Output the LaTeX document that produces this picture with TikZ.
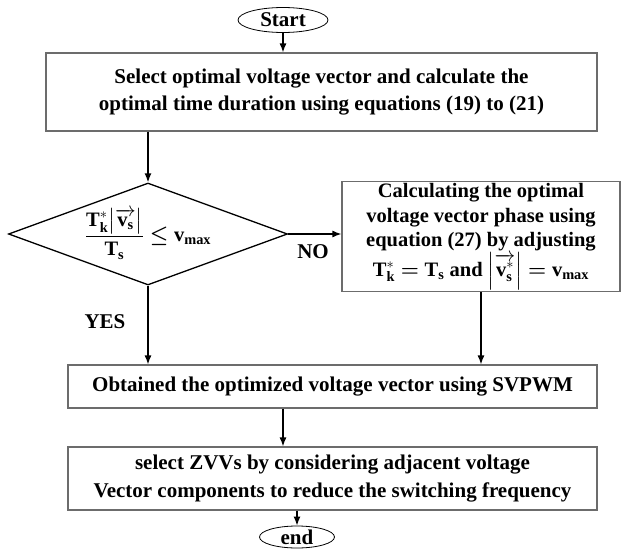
\documentclass[tikz,border=0pt]{standalone}
\usepackage{amsmath}
\usepackage{fontspec}
\setmainfont{Liberation Serif}
\usetikzlibrary{shapes.geometric,arrows.meta}

\begin{document}
\begin{tikzpicture}[x=1pt,y=-1pt,
    every node/.style={font=\fontsize{21}{27.5}\selectfont\bfseries, align=center},
    box/.style={draw=gray!85!black, line width=1.1pt, rectangle, inner sep=2pt},
    term/.style={draw=black, ellipse, line width=.8pt, inner sep=0pt},
    flow/.style={-{Latex[length=9pt,width=7pt]}, line width=1.4pt}]
      \useasboundingbox (0,0) rectangle (622,549);
      \node[term, minimum width=90pt, minimum height=25pt] (start) at (283,20) {Start};
      \node[box, minimum width=551pt, minimum height=78pt] (select) at (321.5,92)
        {Select optimal voltage vector and calculate the\\optimal time duration using equations (19) to (21)};
      \node[draw=black, line width=1.3pt, diamond, aspect=2.74, minimum width=279pt, minimum height=102pt, inner sep=0pt,
            font=\fontsize{20.5}{24}\selectfont\bfseries] (check) at (148,234)
        {$\displaystyle\frac{\mathbf{T}_{\mathbf{k}}^{*}\bigl|\overrightarrow{\mathbf{v}_{\mathbf{s}}}\bigr|}{\mathbf{T}_{\mathbf{s}}}\boldsymbol{\leq}\mathbf{v}_{\mathbf{max}}$};
      \node[box, minimum width=278pt, minimum height=103pt, font=\fontsize{20.5}{24.5}\selectfont\bfseries] (phase) at (481,236.5)
        {Calculating the optimal\\voltage vector phase using\\equation (27) by adjusting\\
         $\mathbf{T}_{\mathbf{k}}^{*}\boldsymbol{=}\mathbf{T}_{\mathbf{s}}$ and $\left|\overrightarrow{\mathbf{v}_{\mathbf{s}}^{*}}\right|\boldsymbol{=}\mathbf{v}_{\mathbf{max}}$};
      \node[box, minimum width=529pt, minimum height=43pt] (obtain) at (332.5,386.5)
        {Obtained the optimized voltage vector using SVPWM};
      \node[box, minimum width=529pt, minimum height=63pt] (zvv) at (332.5,478.5)
        {select ZVVs by considering adjacent voltage\\Vector components to reduce the switching frequency};
      \node[term, minimum width=75pt, minimum height=22pt] (stop) at (297,537) {end};
      % connectors
      \draw[flow] (start) -- (start |- select.north);
      \draw[flow] (check.north |- select.south) -- (check.north);
      \draw[flow] (check.east) -- (check.east -| phase.west);
      \draw[flow] (check.south) -- (check.south |- obtain.north);
      \draw[flow] (phase.south) -- (phase.south |- obtain.north);
      \draw[flow] (obtain.south -| start) -- (zvv.north -| start);
      \draw[flow] (stop.north |- zvv.south) -- (stop.north);
      \node (no) at (313,252) {NO};
      \node (yes) at (105,322) {YES};
    \end{tikzpicture}
\end{document}
